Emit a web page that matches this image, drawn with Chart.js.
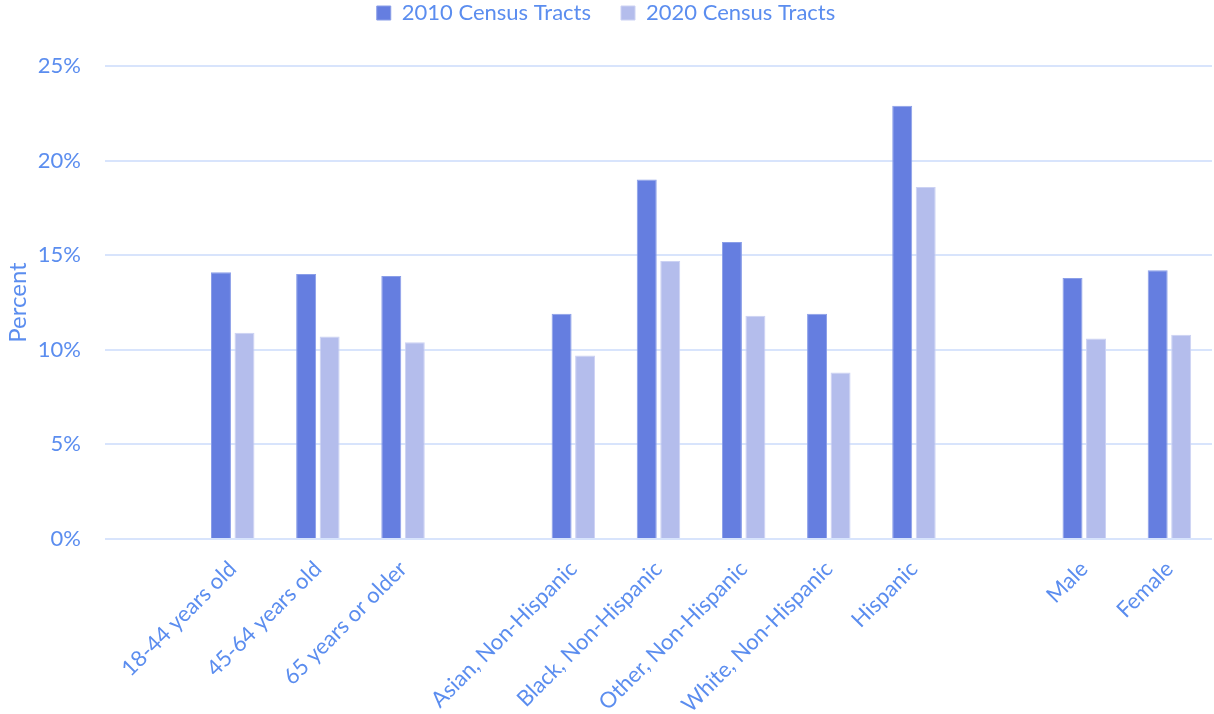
<!DOCTYPE html>
<html>
<head>
<meta charset="utf-8">
<script src="https://cdn.jsdelivr.net/npm/chart.js@4.4.1/dist/chart.umd.min.js"></script>
<style>
  html, body { margin: 0; padding: 0; background: #fff; }
  #wrap { width: 1214px; height: 714px; }
</style>
</head>
<body>
<div id="wrap"><canvas id="chart"></canvas></div>
<script>
// === Data ===
const categories = ['', '18-44 years old', '45-64 years old', '65 years or older', '',
  'Asian, Non-Hispanic', 'Black, Non-Hispanic', 'Other, Non-Hispanic', 'White, Non-Hispanic', 'Hispanic', '',
  'Male', 'Female'];
const tracts2010 = [null, 14.1, 14.0, 13.9, null, 11.9, 19.0, 15.7, 11.9, 22.9, null, 13.8, 14.2];
const tracts2020 = [null, 10.9, 10.7, 10.4, null, 9.7, 14.7, 11.8, 8.8, 18.6, null, 10.6, 10.8];
const yTicks = [0, 5, 10, 15, 20, 25];

// === Styles ===
const textColor = '#5b8def';
const gridColor = '#d8e4fc';
const font = { family: 'Lato', size: 22 };

// extra room under the legend
const legendGap = {
  id: 'legendGap',
  beforeInit(chart) {
    const fit = chart.legend.fit;
    chart.legend.fit = function () {
      fit.bind(chart.legend)();
      this.height += 32;
    };
  }
};

new Chart(document.getElementById('chart'), {
  type: 'bar',
  data: {
    labels: categories,
    datasets: [
      { label: '2010 Census Tracts', data: tracts2010, backgroundColor: '#657ee0', borderColor: '#8a9ee8', borderWidth: 1 },
      { label: '2020 Census Tracts', data: tracts2020, backgroundColor: '#b4bdec', borderColor: '#ccd2f3', borderWidth: 1 }
    ]
  },
  options: {
    responsive: true,
    maintainAspectRatio: false,
    animation: false,
    layout: { padding: { top: -28, right: 2, left: 0, bottom: 0 } },
    datasets: { bar: { categoryPercentage: 0.552, barPercentage: 0.85 } },
    plugins: {
      legend: {
        position: 'top',
        labels: { color: textColor, font: font, boxWidth: 14, boxHeight: 14, padding: 30 }
      },
      tooltip: { enabled: false }
    },
    scales: {
      x: {
        grid: { display: false },
        border: { display: false },
        ticks: { color: textColor, font: font, minRotation: 45, maxRotation: 45, autoSkip: false, padding: 9 },
        afterFit: s => { s.height = 175; }
      },
      y: {
        min: 0,
        max: 25,
        afterBuildTicks: s => { s.ticks = yTicks.map(v => ({ value: v })); },
        grid: { color: gridColor, lineWidth: 2, drawTicks: false },
        border: { display: false },
        ticks: { color: textColor, font: font, padding: 24, callback: v => v + '%' },
        title: { display: true, text: 'Percent', color: textColor, font: { family: 'Lato', size: 24 }, padding: { top: 4, bottom: 0 } },
        afterFit: s => { s.width = 105; }
      }
    }
  },
  plugins: [legendGap]
});
</script>
</body>
</html>
